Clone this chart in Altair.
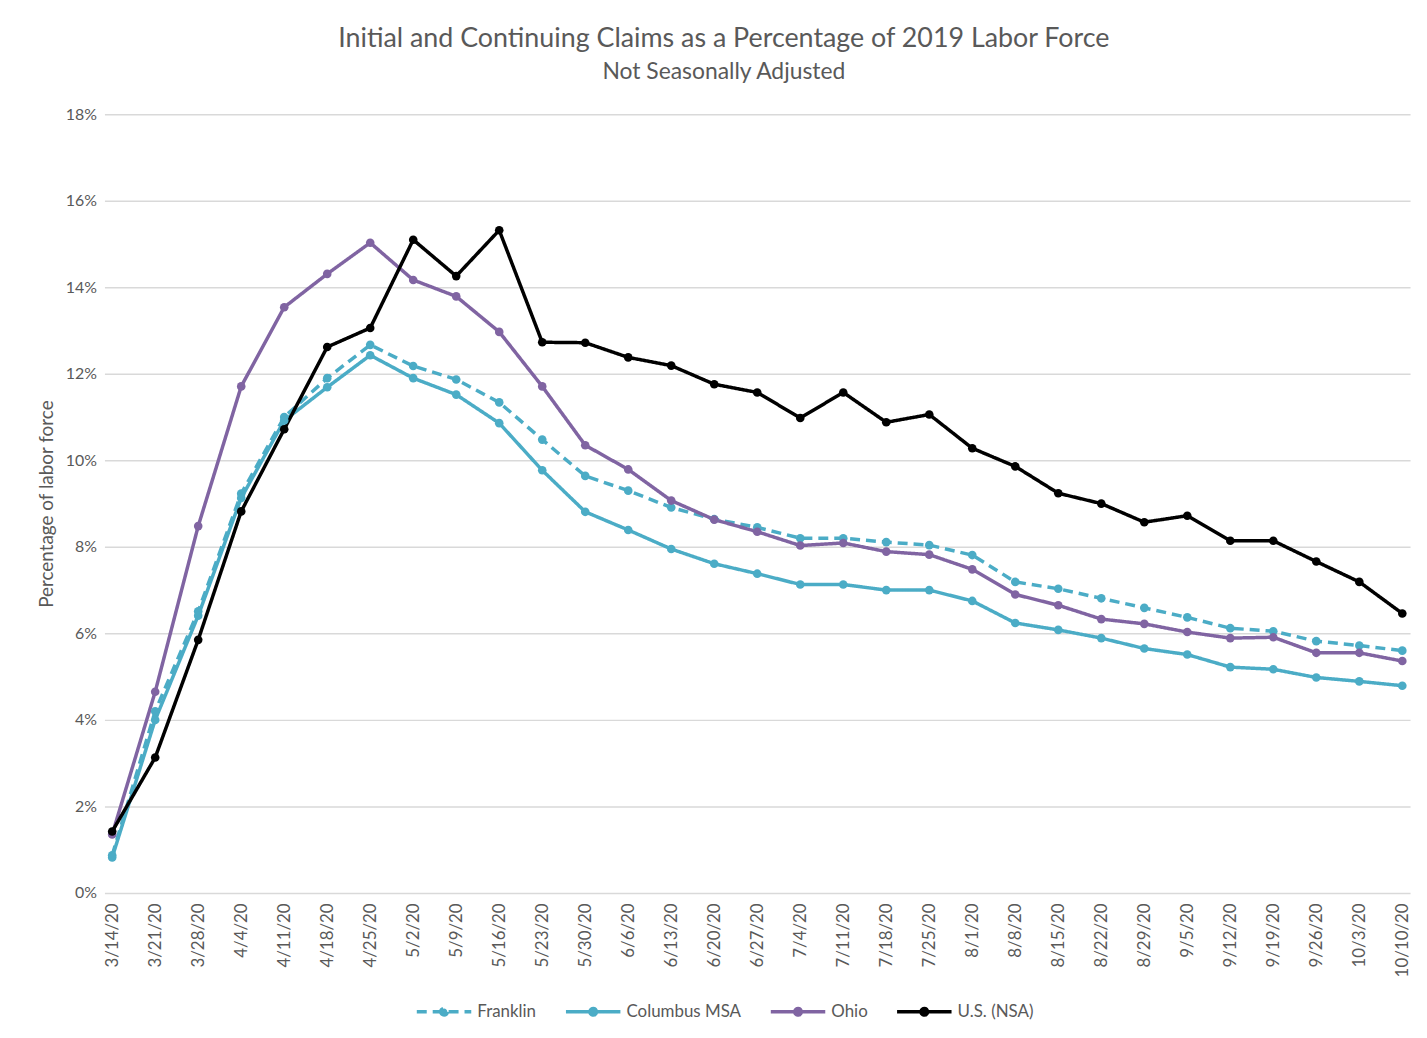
import altair as alt
import pandas as pd

dates = ["3/14/20", "3/21/20", "3/28/20", "4/4/20", "4/11/20", "4/18/20", "4/25/20",
         "5/2/20", "5/9/20", "5/16/20", "5/23/20", "5/30/20", "6/6/20", "6/13/20",
         "6/20/20", "6/27/20", "7/4/20", "7/11/20", "7/18/20", "7/25/20", "8/1/20",
         "8/8/20", "8/15/20", "8/22/20", "8/29/20", "9/5/20", "9/12/20", "9/19/20",
         "9/26/20", "10/3/20", "10/10/20"]

series_names = ["Franklin", "Columbus MSA", "Ohio", "U.S. (NSA)"]

franklin = [0.87, 4.2, 6.51, 9.23, 11.0, 11.9, 12.67, 12.18, 11.87, 11.34, 10.48,
            9.64, 9.30, 8.91, 8.64, 8.45, 8.20, 8.20, 8.11, 8.04, 7.81, 7.19,
            7.03, 6.81, 6.59, 6.37, 6.12, 6.05, 5.82, 5.72, 5.60]
columbus = [0.82, 4.0, 6.41, 9.13, 10.92, 11.69, 12.43, 11.9, 11.52, 10.86, 9.77,
            8.81, 8.39, 7.95, 7.61, 7.38, 7.13, 7.13, 7.0, 7.0, 6.75, 6.24,
            6.08, 5.89, 5.65, 5.51, 5.22, 5.17, 4.98, 4.89, 4.79]
ohio = [1.35, 4.65, 8.48, 11.71, 13.54, 14.31, 15.03, 14.17, 13.79, 12.97, 11.71,
        10.35, 9.79, 9.07, 8.63, 8.35, 8.03, 8.09, 7.89, 7.82, 7.48, 6.90,
        6.65, 6.33, 6.22, 6.03, 5.89, 5.91, 5.55, 5.55, 5.36]
us = [1.42, 3.13, 5.85, 8.82, 10.72, 12.62, 13.06, 15.10, 14.26, 15.32, 12.73,
      12.72, 12.38, 12.19, 11.76, 11.57, 10.98, 11.57, 10.88, 11.06, 10.28, 9.86,
      9.24, 9.0, 8.57, 8.72, 8.14, 8.14, 7.66, 7.19, 6.46]

colors = ["#4BACC6", "#4BACC6", "#8064A2", "#000000"]
dashes = [[10, 6], [1, 0], [1, 0], [1, 0]]

rows = []
for name, vals in zip(series_names, [franklin, columbus, ohio, us]):
    for d, v in zip(dates, vals):
        rows.append({"series": name, "date": d, "value": v / 100.0, "order": series_names.index(name)})
df = pd.DataFrame(rows)

FONT = "Lato"
GREY = "#595959"

legend_path = ("M-1,0L1,0M-0.12,0A0.12,0.12,0,1,0,0.12,0A0.12,0.12,0,1,0,-0.12,0Z")

legend_def = alt.Legend(
    title=None, orient="none", legendX=312, legendY=873, direction="horizontal",
    symbolType=legend_path, symbolSize=3000, symbolStrokeWidth=3.5,
    labelFont=FONT, labelFontSize=17, labelColor=GREY, labelOffset=4,
    columnPadding=22,
)

chart = alt.Chart(df).mark_line(
    strokeWidth=3.5,
    point=alt.OverlayMarkDef(filled=True, size=75, opacity=1),
).encode(
    x=alt.X("date:N", sort=dates, title=None,
            scale=alt.Scale(type="point", padding=0.18),
            axis=alt.Axis(labelAngle=-90, labelFont=FONT, labelFontSize=17,
                          labelColor=GREY, labelPadding=10, ticks=False, domain=False,
                          grid=False, labelAlign="right", labelBaseline="middle")),
    y=alt.Y("value:Q", title="Percentage of labor force",
            scale=alt.Scale(domain=[0, 0.18], nice=False),
            axis=alt.Axis(values=[0, 0.02, 0.04, 0.06, 0.08, 0.10, 0.12, 0.14, 0.16, 0.18],
                          format=".0%", labelFont=FONT, labelFontSize=16, labelColor=GREY,
                          labelPadding=8, ticks=False, domain=False,
                          gridColor="#d9d9d9", gridWidth=1.5,
                          titleFont=FONT, titleFontSize=19, titleColor=GREY,
                          titleFontWeight="normal", titlePadding=9)),
    color=alt.Color("series:N", sort=series_names,
                    scale=alt.Scale(domain=series_names, range=colors),
                    legend=legend_def),
    strokeDash=alt.StrokeDash("series:N", sort=series_names,
                              scale=alt.Scale(domain=series_names, range=dashes),
                              legend=legend_def),
    order=alt.Order("order:Q"),
).properties(
    width=1313, height=783,
    title=alt.TitleParams(
        text="Initial and Continuing Claims as a Percentage of 2019 Labor Force",
        subtitle="Not Seasonally Adjusted",
        font=FONT, fontSize=27, fontWeight="normal", color=GREY,
        subtitleFont=FONT, subtitleFontSize=23, subtitleColor=GREY,
        subtitlePadding=8, offset=22, anchor="middle", frame="bounds",
    ),
    autosize=alt.AutoSizeParams(type="none"),
    padding={"left": 97, "top": 104, "right": 9, "bottom": 140},
    background="white",
).configure_view(stroke=None)

chart.save("out.html", embed_options={"renderer": "svg", "actions": False})
